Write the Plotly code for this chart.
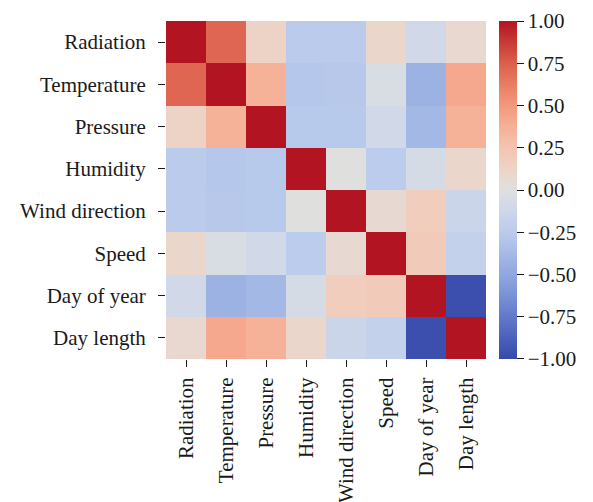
import plotly.graph_objects as go

labels = ["Radiation", "Temperature", "Pressure", "Humidity",
          "Wind direction", "Speed", "Day of year", "Day length"]

corr = [
    [1.00, 0.72, 0.13, -0.25, -0.25, 0.10, -0.10, 0.08],
    [0.72, 1.00, 0.36, -0.28, -0.27, -0.05, -0.43, 0.42],
    [0.13, 0.36, 1.00, -0.26, -0.26, -0.10, -0.39, 0.36],
    [-0.25, -0.28, -0.26, 1.00, 0.00, -0.24, -0.07, 0.10],
    [-0.25, -0.27, -0.26, 0.00, 1.00, 0.07, 0.18, -0.15],
    [0.10, -0.05, -0.10, -0.24, 0.07, 1.00, 0.20, -0.19],
    [-0.10, -0.43, -0.39, -0.07, 0.18, 0.20, 1.00, -0.97],
    [0.08, 0.42, 0.36, 0.10, -0.15, -0.19, -0.97, 1.00],
]

cb_ticks = [0.9999, 0.75, 0.5, 0.25, 0.0, -0.25, -0.5, -0.75, -0.9999]
cb_ticktext = ["1.00", "0.75", "0.50", "0.25", "0.00",
               "\u22120.25", "\u22120.50", "\u22120.75", "\u22121.00"]

# coolwarm-like scale, slightly muted on the blue side as in the reference
colorscale = [
    [0.0, "rgb(55,73,170)"],
    [0.0625, "rgb(74,98,187)"],
    [0.125, "rgb(96,122,202)"],
    [0.1875, "rgb(120,146,214)"],
    [0.25, "rgb(144,167,224)"],
    [0.3125, "rgb(166,186,230)"],
    [0.375, "rgb(186,203,236)"],
    [0.4375, "rgb(206,215,234)"],
    [0.5, "rgb(223,223,222)"],
    [0.5625, "rgb(237,212,198)"],
    [0.625, "rgb(244,196,176)"],
    [0.6875, "rgb(246,176,150)"],
    [0.75, "rgb(242,153,124)"],
    [0.8125, "rgb(233,125,100)"],
    [0.875, "rgb(220,95,76)"],
    [0.9375, "rgb(200,58,52)"],
    [1.0, "rgb(178,20,34)"],
]

font = dict(family="Liberation Serif, Times New Roman, serif", size=21, color="#1a1a1a")

fig = go.Figure(go.Heatmap(
    z=corr, x=labels, y=labels,
    colorscale=colorscale, zmin=-1, zmax=1,
    colorbar=dict(
        x=1.04, xanchor="left", xpad=0,
        y=0.5, yanchor="middle", len=1.0, lenmode="fraction", ypad=0,
        thickness=18, outlinewidth=0,
        tickmode="array", tickvals=cb_ticks, ticktext=cb_ticktext,
        ticks="outside", ticklen=7, tickcolor="#1a1a1a", tickwidth=1.2,
        tickfont=font, ticklabeloverflow="allow",
    ),
))

fig.update_layout(
    width=593, height=502,
    margin=dict(l=158, r=115, t=13, b=151),
    paper_bgcolor="white", plot_bgcolor="white",
    font=font,
)
fig.update_xaxes(tickangle=-90, ticks="outside", ticklen=7, tickcolor="#1a1a1a",
                 tickwidth=1.2, showgrid=False, zeroline=False, showline=False,
                 tickfont=font, automargin=False, ticklabelstandoff=2)
fig.update_yaxes(autorange="reversed", ticks="outside", ticklen=7, tickcolor="#1a1a1a",
                 tickwidth=1.2, showgrid=False, zeroline=False, showline=False,
                 tickfont=font, automargin=False, ticklabelstandoff=8)

fig.write_html("out.html")
